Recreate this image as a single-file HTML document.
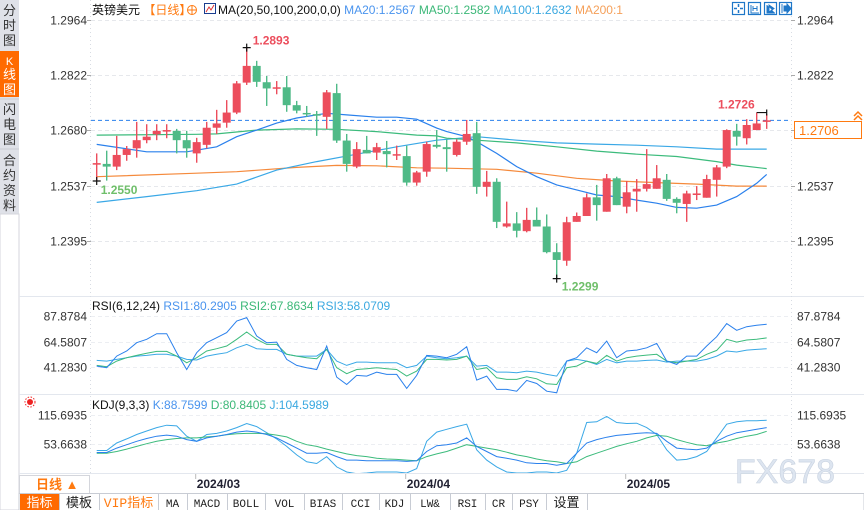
<!DOCTYPE html>
<html><head><meta charset="utf-8"><style>
html,body{margin:0;padding:0;background:#fff;width:864px;height:510px;overflow:hidden}
svg{display:block;font-family:"Liberation Sans","Noto Sans CJK SC",sans-serif}
</style></head><body>
<svg id="c" width="864" height="510" viewBox="0 0 864 510" xmlns="http://www.w3.org/2000/svg">
<g id="static">
  <rect x="0" y="0" width="19" height="510" fill="#dfe1e8"/>
  <g font-size="13" fill="#333" text-anchor="middle">
    <text x="9.5" y="15">分</text><text x="9.5" y="30">时</text><text x="9.5" y="45">图</text>
    <rect x="0" y="51" width="19" height="46" fill="#ff6a00"/>
    <text x="9.5" y="65" fill="#fff" font-size="11">K</text><text x="9.5" y="79" fill="#fff">线</text><text x="9.5" y="94" fill="#fff">图</text>
    <line x1="0" y1="99" x2="19" y2="99" stroke="#c8cad2"/>
    <text x="9.5" y="114">闪</text><text x="9.5" y="129">电</text><text x="9.5" y="144">图</text>
    <line x1="0" y1="149" x2="19" y2="149" stroke="#c8cad2"/>
    <text x="9.5" y="165">合</text><text x="9.5" y="180">约</text><text x="9.5" y="195">资</text><text x="9.5" y="210">料</text>
    <rect x="0" y="214" width="19" height="296" fill="#fff" stroke="#d4d6dc"/>
  </g>
  <line x1="19" y1="296.5" x2="864" y2="296.5" stroke="#e3e7ee"/>
  <line x1="19" y1="394.5" x2="864" y2="394.5" stroke="#e3e7ee"/>
  <line x1="19" y1="473.5" x2="864" y2="473.5" stroke="#e3e7ee"/>
  <line x1="90.5" y1="0" x2="90.5" y2="473" stroke="#d8dce3" stroke-dasharray="1,3"/>
  <line x1="791.5" y1="0" x2="791.5" y2="473" stroke="#d8dce3" stroke-dasharray="1,3"/>
  <text x="92" y="14" font-size="12"><tspan fill="#111">英镑美元</tspan><tspan fill="#ff7a10"> 【日线】</tspan></text>
  <g><circle cx="192" cy="10" r="4.5" fill="none" stroke="#ff7a10"/><line x1="187.5" y1="10" x2="196.5" y2="10" stroke="#ff7a10"/><line x1="192" y1="5.5" x2="192" y2="14.5" stroke="#ff7a10"/></g>
  <g><rect x="204.5" y="3.5" width="11" height="10" fill="#fff" stroke="#1a3d8f"/><polyline points="206,12 209,7 211,10 214,5" fill="none" stroke="#d33" stroke-width="1"/></g>
  <text x="218" y="14" font-size="12"><tspan fill="#111">MA(20,50,100,200,0,0) </tspan><tspan fill="#4a94ee">MA20:1.2567 </tspan><tspan fill="#3cb878"> MA50:1.2582 </tspan><tspan fill="#3aa8e0"> MA100:1.2632 </tspan><tspan fill="#f5a05a"> MA200:1</tspan></text>
  <g fill="#fff" stroke="#1f77c8" stroke-width="1.2">
    <rect x="732.5" y="2.5" width="12" height="12"/>
    <rect x="748.5" y="2.5" width="12" height="12"/>
    <rect x="764.5" y="2.5" width="12" height="12"/>
    <rect x="779.5" y="2.5" width="12" height="12"/>
  </g>
  <g stroke="#1f77c8" fill="#1f77c8">
    <path d="M738.5 4v3M738.5 10v3M734 8.5h3M740 8.5h3" stroke-width="1.5"/>
    <path d="M751 5v8h8M753 6v5M757 6v5M753 8.5h4" fill="none"/>
    <path d="M767 5v8h8M769 5l5 3.5-5 3.5z"/>
    <path d="M782 4v9M784 6h3v-2l4 4.5-4 4.5v-2h-3z"/>
  </g>
  <rect x="19.5" y="475.5" width="70" height="18" fill="#fff" stroke="#d4d6dc"/>
  <text x="36" y="489" font-size="13" font-weight="bold" fill="#ff7a10">日线 ▲</text>
  <rect x="19" y="493.5" width="845" height="17" fill="#fff" stroke="#c8ccd4"/>
  <rect x="20" y="494" width="39" height="16" fill="#ff6a00"/>
  <g font-size="12" text-anchor="middle" fill="#222" font-family="Liberation Mono,'Noto Sans CJK SC',monospace" id="tbtns"></g>
  <text x="785" y="483" font-size="34" fill="#dde5f0" stroke="#c8d2e0" stroke-width="0.6" text-anchor="middle" font-family="Liberation Sans,sans-serif">FX678</text>
  <g><circle cx="30" cy="402" r="3" fill="#e22"/><circle cx="30" cy="402" r="5" fill="none" stroke="#e22" stroke-dasharray="1.5,1.5"/></g>
</g>
<g id="dyn"></g>
<g id="top">
  <rect x="794.5" y="121.5" width="67" height="17" fill="#fff" stroke="#ff7a10"/>
  <text x="799" y="135" font-size="13" fill="#ff7a10">1.2706</text>
  <path d="M854 116l4-4 4 4M854 120l4-4 4 4" fill="none" stroke="#ff7a10" stroke-width="1.5"/>
</g>
</svg>
<script>
const priceTicks = [1.2964, 1.2822, 1.2680, 1.2537, 1.2395];
const opens  = [1.2592,1.2594,1.2587,1.2617,1.2634,1.2655,1.2670,1.2677,1.2679,1.2655,1.2621,1.2643,1.2687,1.2700,1.2726,1.2803,1.2846,1.2804,1.2788,1.2791,1.2745,1.2725,1.2722,1.2715,1.2776,1.2654,1.2587,1.2630,1.2623,1.2627,1.2618,1.2614,1.2546,1.2574,1.2643,1.2637,1.2617,1.2651,1.2673,1.2535,1.2548,1.2433,1.2441,1.2421,1.2450,1.2433,1.2367,1.2345,1.2445,1.2460,1.2508,1.2471,1.2557,1.2484,1.2523,1.2530,1.2530,1.2553,1.2504,1.2491,1.2514,1.2507,1.2553,1.2587,1.2679,1.2660,1.2681,1.2702];
const closes = [1.2596,1.2587,1.2617,1.2632,1.2655,1.2664,1.2679,1.2681,1.2655,1.2634,1.2650,1.2687,1.2698,1.2726,1.2801,1.2846,1.2805,1.2788,1.2791,1.2745,1.2731,1.2722,1.2718,1.2778,1.2654,1.2594,1.2632,1.2621,1.2637,1.2619,1.2619,1.2546,1.2572,1.2645,1.2638,1.2632,1.2651,1.2671,1.2535,1.2548,1.2445,1.2441,1.2422,1.2450,1.2433,1.2367,1.2347,1.2444,1.2460,1.2508,1.2488,1.2557,1.2488,1.2521,1.2530,1.2542,1.2557,1.2504,1.2494,1.2518,1.2518,1.2555,1.2585,1.2681,1.2664,1.2694,1.2698,1.2706];
const highs  = [1.2621,1.2628,1.2666,1.2640,1.2702,1.2696,1.2696,1.2696,1.2684,1.2679,1.2661,1.2702,1.2733,1.2758,1.2807,1.2893,1.2859,1.2820,1.2807,1.2820,1.2756,1.2743,1.2730,1.2784,1.2800,1.2671,1.2650,1.2666,1.2648,1.2653,1.2641,1.2641,1.2576,1.2651,1.2681,1.2657,1.2657,1.2707,1.2702,1.2576,1.2557,1.2497,1.2470,1.2481,1.2482,1.2464,1.2390,1.2458,1.2469,1.2518,1.2540,1.2568,1.2561,1.2550,1.2555,1.2632,1.2591,1.2568,1.2508,1.2525,1.2537,1.2566,1.2591,1.2683,1.2697,1.2709,1.2726,1.2722];
const lows   = [1.2550,1.2551,1.2578,1.2602,1.2610,1.2647,1.2655,1.2660,1.2621,1.2610,1.2597,1.2634,1.2671,1.2687,1.2722,1.2797,1.2792,1.2743,1.2773,1.2728,1.2724,1.2715,1.2666,1.2684,1.2648,1.2574,1.2583,1.2621,1.2604,1.2585,1.2604,1.2538,1.2538,1.2561,1.2634,1.2574,1.2613,1.2643,1.2517,1.2510,1.2429,1.2430,1.2405,1.2418,1.2433,1.2364,1.2299,1.2332,1.2445,1.2460,1.2448,1.2471,1.2488,1.2467,1.2471,1.2523,1.2530,1.2499,1.2467,1.2445,1.2501,1.2507,1.2510,1.2583,1.2641,1.2644,1.2681,1.2684];
const ma20Idx = [0,5,9,12,14,16,18,20,22,23,25,28,30,32,34,35,37,38,40,42,44,46,48,50,52,54,56,58,60,62,64,66,67];
const ma20Val = [1.2644,1.2625,1.2625,1.2638,1.2664,1.2681,1.2699,1.2712,1.2720,1.2724,1.2720,1.2714,1.2714,1.2709,1.2686,1.2677,1.2664,1.2651,1.2621,1.2587,1.2561,1.2540,1.2527,1.2514,1.2510,1.2501,1.2493,1.2482,1.2480,1.2488,1.2510,1.2544,1.2567];
const ma50Idx = [0,10,12,16,20,24,28,32,34,35,38,42,46,50,54,58,62,64,67];
const ma50Val = [1.2668,1.2670,1.2671,1.2681,1.2684,1.2683,1.2677,1.2668,1.2666,1.2660,1.2655,1.2648,1.2638,1.2627,1.2619,1.2613,1.2600,1.2591,1.2582];
const ma100Idx = [0,5,10,14,18,22,26,30,34,38,42,46,50,54,58,62,67];
const ma100Val = [1.2495,1.2510,1.2525,1.2542,1.2578,1.2600,1.2619,1.2638,1.2655,1.2664,1.2655,1.2648,1.2645,1.2642,1.2638,1.2632,1.2632];
const ma200Idx = [0,10,14,20,24,28,32,35,40,44,48,52,56,60,64,67];
const ma200Val = [1.2561,1.2570,1.2574,1.2585,1.2590,1.2589,1.2584,1.2583,1.2580,1.2570,1.2557,1.2550,1.2546,1.2542,1.2537,1.2537];
const rsiTicks = [87.8784, 64.5807, 41.2830];
const rsi1 = [42.2,40.7,51.3,55.9,63.5,66.6,71.7,71.7,54.4,39.1,54.4,63.5,68.1,72.7,83.3,86.4,69.6,63.5,64.1,48.3,42.8,40.7,39.1,60.5,32.1,25.4,33.7,33.0,36.7,34.6,34.6,21.8,33.7,51.9,51.3,49.8,52.9,59.9,29.4,33.0,20.9,20.9,19.3,29.1,26.3,19.3,17.8,46.8,49.8,58.9,54.4,65.0,49.8,55.9,56.8,58.9,62.9,46.8,43.7,51.3,51.3,60.5,69.0,80.9,74.8,78.1,79.4,80.29];
const rsi2 = [42.8,41.6,46.7,49.8,51.9,53.8,55.6,55.6,51.3,45.2,49.8,55.9,58.0,60.5,66.6,73.3,66.6,62.0,62.0,52.9,51.3,49.8,48.9,57.4,40.7,35.2,39.1,39.8,40.7,39.8,39.1,33.0,37.6,48.3,48.3,47.7,48.3,51.3,39.1,40.7,31.5,30.0,30.0,32.4,30.6,26.0,25.4,40.7,42.2,46.7,44.6,51.9,46.7,49.8,51.3,52.2,52.9,46.7,45.2,46.7,48.3,52.9,56.5,66.6,64.1,66.0,66.6,67.86];
const rsi3 = [47.4,46.7,48.3,49.8,51.3,51.9,52.9,52.9,51.3,48.3,47.7,51.3,52.9,54.4,58.9,62.0,58.0,57.4,57.4,52.9,51.3,51.3,51.3,57.4,46.7,42.8,45.8,45.8,45.2,45.2,45.2,40.7,42.8,51.3,49.8,48.9,49.8,51.3,42.2,42.8,36.7,36.7,36.1,37.6,36.7,34.6,33.0,46.7,48.3,46.7,43.7,48.3,45.2,46.7,46.7,47.4,47.7,45.8,46.7,46.7,46.7,48.3,51.3,55.9,55.0,56.8,57.4,58.07];
const kdjTicks = [115.6935, 53.6638];
const kVal = [35.5,35.5,44.9,52.3,59.5,65.4,70.5,72.7,70.5,63.2,59.5,66.8,70.5,74.1,79.2,81.4,79.2,74.1,66.8,55.9,44.9,34.0,34.0,35.5,26.7,19.4,19.4,17.9,17.9,17.9,17.9,16.5,17.9,37.6,50.1,52.3,55.9,66.8,48.6,37.6,26.7,23.1,19.4,13.6,12.1,12.1,8.5,12.1,34.0,55.9,63.2,68.3,72.0,74.1,76.3,77.8,76.3,59.5,44.9,42.8,41.3,44.9,59.5,70.5,77.8,81.4,85.1,88.76];
const dVal = [34.0,34.0,37.6,42.8,48.6,54.4,59.5,63.2,65.4,66.8,66.8,69.0,70.5,73.4,75.6,76.3,76.3,75.6,72.7,69.0,59.5,52.3,48.6,42.8,37.6,32.5,28.9,26.7,23.1,21.6,20.9,19.4,17.9,26.7,32.5,37.6,44.9,52.3,48.6,44.9,41.3,36.2,30.4,26.7,21.6,17.9,15.8,12.1,15.8,26.7,34.0,41.3,48.6,54.4,59.5,66.8,72.0,70.5,63.2,57.4,52.3,50.1,55.9,59.5,65.4,70.5,74.1,80.84];
const jVal = [39.8,39.8,55.9,64.7,74.1,81.4,88.7,93.8,92.4,70.5,59.5,74.1,76.3,81.4,88.7,97.5,90.9,77.8,64.7,48.6,30.4,15.8,12.1,26.7,4.8,-6.1,-9.8,-8.3,-6.1,-6.1,-6.1,-8.3,1.2,59.5,79.2,85.1,90.9,96.0,41.3,19.4,4.8,-6.1,-8.3,-8.3,-6.1,-6.1,-8.3,-2.5,34.0,99.7,101.1,112.8,99.7,97.5,98.2,88.7,74.1,41.3,19.4,20.9,26.7,37.6,66.8,96.0,101.1,103.3,103.3,104.6];
const dateLabels = ['2024/03','2024/04','2024/05'];
const dateIdx = [10,31,53];
const toolbarLabels = ['指标','模板','VIP指标','MA','MACD','BOLL','VOL','BIAS','CCI','KDJ','LW&','RSI','CR','PSY','设置'];
const lastPrice = 1.2706;

const NS='http://www.w3.org/2000/svg';
const dyn=document.getElementById('dyn');
const xOf=i=>96.7+10*i;
const yP=p=>20+(1.2964-p)*3889;
const yR=v=>316+(87.8784-v)*1.096;
const yK=v=>415+(115.6935-v)*0.468;
function mk(tag,attrs,parent){const e=document.createElementNS(NS,tag);for(const k in attrs)e.setAttribute(k,attrs[k]);(parent||dyn).appendChild(e);return e;}
const RED='#ec4d5c',GREEN='#4fba87';

const defs=mk('defs',{});
const c1=mk('clipPath',{id:'cp'},defs);mk('rect',{x:91,y:18,width:700,height:278},c1);
const c2=mk('clipPath',{id:'cr'},defs);mk('rect',{x:91,y:297,width:700,height:97},c2);
const c3=mk('clipPath',{id:'ck'},defs);mk('rect',{x:91,y:395,width:700,height:78},c3);

priceTicks.forEach(t=>{
  const y=Math.round(yP(t))+0.5;
  const g=mk('line',{x1:91,y1:y,x2:791,y2:y,stroke:'#e6e8ec','stroke-dasharray':'4,3'});
  
  
  const l=mk('text',{x:87,y:y+4,'font-size':12,fill:'#333','text-anchor':'end'});l.textContent=t.toFixed(4);
  
  
  const r=mk('text',{x:797,y:y+4,'font-size':12,fill:'#333'});r.textContent=t.toFixed(4);
  
  
  mk('line',{x1:87,y1:y,x2:91,y2:y,stroke:'#aaa'});mk('line',{x1:791,y1:y,x2:795,y2:y,stroke:'#aaa'});
});
rsiTicks.forEach(t=>{
  const y=Math.round(yR(t))+0.5;
  const g=mk('line',{x1:91,y1:y,x2:791,y2:y,stroke:'#eceef2','stroke-dasharray':'4,3'});
  
  
  const l=mk('text',{x:87,y:y+4,'font-size':12,fill:'#333','text-anchor':'end'});l.textContent=t.toFixed(4);
  
  
  const r=mk('text',{x:797,y:y+4,'font-size':12,fill:'#333'});r.textContent=t.toFixed(4);
  
  
});
kdjTicks.forEach(t=>{
  const y=Math.round(yK(t))+0.5;
  const g=mk('line',{x1:91,y1:y,x2:791,y2:y,stroke:'#eceef2','stroke-dasharray':'4,3'});
  
  
  const l=mk('text',{x:87,y:y+4,'font-size':12,fill:'#333','text-anchor':'end'});l.textContent=t.toFixed(4);
  
  
  const r=mk('text',{x:797,y:y+4,'font-size':12,fill:'#333'});r.textContent=t.toFixed(4);
  
  
});

function sparseLine(idx,vals,color,name){
  const pts=idx.map((i,k)=>xOf(i).toFixed(1)+','+yP(vals[k]).toFixed(1)).join(' ');
  const p=mk('polyline',{points:pts,fill:'none',stroke:color,'stroke-width':1.2,'clip-path':'url(#cp)'});
  
  
}
sparseLine(ma200Idx,ma200Val,'#f58a3c','ma200-line');
sparseLine(ma100Idx,ma100Val,'#3aa8e6','ma100-line');
sparseLine(ma50Idx,ma50Val,'#3cbb7c','ma50-line');
sparseLine(ma20Idx,ma20Val,'#2a80ec','ma20-line');

const lp=mk('line',{x1:91,y1:yP(lastPrice),x2:791,y2:yP(lastPrice),stroke:'#2a80ec','stroke-dasharray':'4,3'});



opens.forEach((o,i)=>{
  const c=closes[i],up=c>=o,col=up?RED:GREEN,x=xOf(i);
  const g=mk('g',{});
  
  
  mk('line',{x1:x,y1:yP(highs[i]),x2:x,y2:yP(lows[i]),stroke:col,'stroke-width':1.4},g);
  const top=yP(Math.max(o,c)),bot=yP(Math.min(o,c));
  mk('rect',{x:x-4,y:top,width:8,height:Math.max(1.5,bot-top),fill:col},g);
});

function marker(i,p,label,col,dx,dy){
  const x=xOf(i),y=yP(p);
  mk('path',{d:`M${x-4} ${y}h8M${x} ${y-4}v8`,stroke:'#111','stroke-width':1.2});
  const t=mk('text',{x:x+dx,y:y+dy,'font-size':12,'font-weight':'bold',fill:col});t.textContent=label;
  
  
}
marker(15,highs[15],highs[15].toFixed(4),RED,6,-3);
marker(0,lows[0],lows[0].toFixed(4),'#6fbf6a',4,13);
marker(46,lows[46],lows[46].toFixed(4),'#6fbf6a',5,12);
{const x=xOf(67),y=yP(1.2726);mk('path',{d:`M${x-10} ${y}h10M${x} ${y-3}v6`,stroke:'#111','stroke-width':1.2});
 const t=mk('text',{x:718,y:y-4,'font-size':12,'font-weight':'bold',fill:RED});t.textContent='1.2726';
 
 }

function fullLine(vals,yf,color,clip,name){
  const pts=vals.map((v,i)=>xOf(i).toFixed(1)+','+yf(v).toFixed(1)).join(' ');
  const p=mk('polyline',{points:pts,fill:'none',stroke:color,'stroke-width':1,'clip-path':clip});
  
  
}
fullLine(rsi3,yR,'#3aa8e6','url(#cr)','rsi3-line');
fullLine(rsi2,yR,'#3cbb7c','url(#cr)','rsi2-line');
fullLine(rsi1,yR,'#2a80ec','url(#cr)','rsi1-line');
fullLine(jVal,yK,'#3aa8e6','url(#ck)','kdj-j-line');
fullLine(dVal,yK,'#3cbb7c','url(#ck)','kdj-d-line');
fullLine(kVal,yK,'#2a80ec','url(#ck)','kdj-k-line');

{const t=mk('text',{x:92,y:310,'font-size':12});
 t.innerHTML='<tspan fill="#111">RSI(6,12,24) </tspan><tspan fill="#4a94ee"> RSI1:80.2905 </tspan><tspan fill="#3cb878"> RSI2:67.8634 </tspan><tspan fill="#3aa8e0"> RSI3:58.0709</tspan>';
 
 
 const k=mk('text',{x:92,y:409,'font-size':12});
 k.innerHTML='<tspan fill="#111">KDJ(9,3,3) </tspan><tspan fill="#4a94ee"> K:88.7599 </tspan><tspan fill="#3cb878">  D:80.8405 </tspan><tspan fill="#3aa8e0">  J:104.5989</tspan>';
 
 }

dateLabels.forEach((d,k)=>{
  const x=xOf(dateIdx[k])-1;
  mk('line',{x1:x,y1:474,x2:x,y2:479,stroke:'#bbb'});
  const t=mk('text',{x:x+1,y:488,'font-size':12,'font-weight':'bold',fill:'#223'});t.textContent=d;
  
  
});

const tb=document.getElementById('tbtns');
const bx=[20,59,99,158,187,227,265,304,342,379,410,450,485,512,546,587];
toolbarLabels.forEach((l,k)=>{
  const x0=bx[k],x1=bx[k+1];
  if(k>0) mk('line',{x1:x1+0.5,y1:494,x2:x1+0.5,y2:510,stroke:'#c8ccd4'},tb);
  const t=mk('text',{x:(x0+x1)/2,y:507,fill:k==0?'#fff':(k==2?'#ff7a10':'#222'),'font-size':k<3||k==14?13:11},tb);
  t.textContent=l;
  
  
});
mk('line',{x1:59.5,y1:494,x2:59.5,y2:510,stroke:'#c8ccd4'},tb);
</script>
</body></html>
